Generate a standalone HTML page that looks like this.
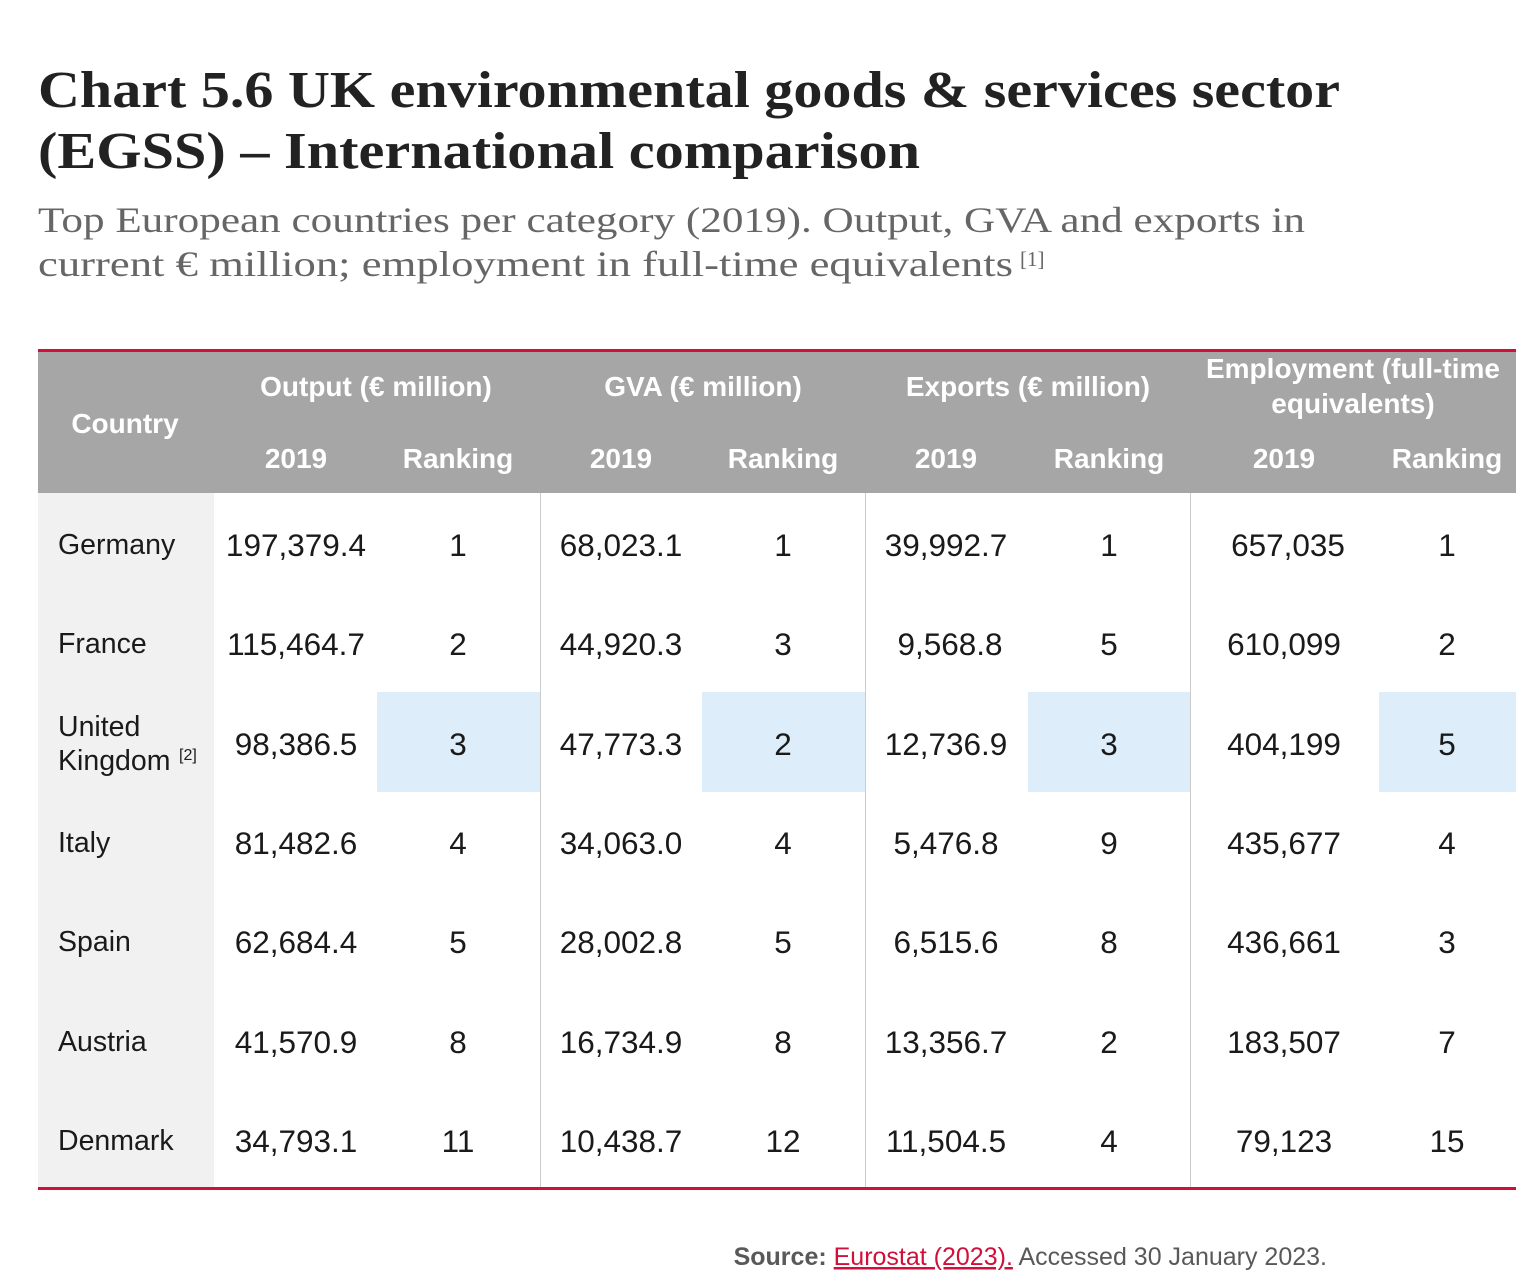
<!DOCTYPE html>
<html><head><meta charset="utf-8"><style>
html,body{margin:0;padding:0;background:#fff;}
svg{display:block;}
.t{font-family:"Liberation Serif",serif;font-weight:bold;fill:#222;font-size:52px;}
.s{font-family:"Liberation Serif",serif;fill:#666;font-size:36px;}
.h{font-family:"Liberation Sans",sans-serif;font-weight:bold;fill:#fff;font-size:28px;text-anchor:middle;}
.c{font-family:"Liberation Sans",sans-serif;fill:#1a1a1a;font-size:28.5px;}
.n{font-family:"Liberation Sans",sans-serif;fill:#1a1a1a;font-size:31.5px;text-anchor:middle;}
.src{font-family:"Liberation Sans",sans-serif;fill:#595959;font-size:25px;}
</style></head><body>
<svg width="1526" height="1285" viewBox="0 0 1526 1285">
<text class="t" x="38" y="107" textLength="1302" lengthAdjust="spacingAndGlyphs">Chart 5.6  UK environmental goods &amp; services sector</text>
<text class="t" x="38" y="168" textLength="882" lengthAdjust="spacingAndGlyphs">(EGSS) – International comparison</text>
<text class="s" x="38" y="232" textLength="1267" lengthAdjust="spacingAndGlyphs">Top European countries per category (2019). Output, GVA and exports in</text>
<text class="s" x="38" y="276" textLength="975" lengthAdjust="spacingAndGlyphs">current € million; employment in full-time equivalents</text>
<text x="1020" y="266" style="font-family:'Liberation Serif',serif;fill:#666;font-size:21px;">[1]</text>

<rect x="38" y="352" width="1478" height="141" fill="#a6a6a6"/>
<rect x="38" y="349" width="1478" height="3" fill="#d0103a"/>
<rect x="38" y="493" width="176" height="695" fill="#f1f1f1"/>
<g fill="#ddeefa">
<rect x="377" y="692" width="163" height="100"/>
<rect x="702" y="692" width="163" height="100"/>
<rect x="1028" y="692" width="162" height="100"/>
<rect x="1379" y="692" width="137" height="100"/>
</g>
<g stroke="#cccccc" stroke-width="1">
<line x1="540.5" y1="493" x2="540.5" y2="1188"/>
<line x1="865.5" y1="493" x2="865.5" y2="1188"/>
<line x1="1190.5" y1="493" x2="1190.5" y2="1188"/>
</g>
<rect x="38" y="1187" width="1478" height="3" fill="#d0103a"/>

<text class="h" x="125" y="433">Country</text>
<text class="h" x="376" y="396">Output (€ million)</text>
<text class="h" x="703" y="396">GVA (€ million)</text>
<text class="h" x="1028" y="396">Exports (€ million)</text>
<text class="h" x="1353" y="378">Employment (full-time</text>
<text class="h" x="1353" y="413">equivalents)</text>
<g>
<text class="h" x="296" y="468">2019</text><text class="h" x="458" y="468">Ranking</text>
<text class="h" x="621" y="468">2019</text><text class="h" x="783" y="468">Ranking</text>
<text class="h" x="946" y="468">2019</text><text class="h" x="1109" y="468">Ranking</text>
<text class="h" x="1284" y="468">2019</text><text class="h" x="1447" y="468">Ranking</text>
</g>

<text class="c" x="58" y="554">Germany</text>
<text class="c" x="58" y="653">France</text>
<text class="c" x="58" y="736">United</text>
<text class="c" x="58" y="770">Kingdom</text><text x="179" y="760" style="font-family:'Liberation Sans',sans-serif;fill:#1a1a1a;font-size:16px;">[2]</text>
<text class="c" x="58" y="852">Italy</text>
<text class="c" x="58" y="951">Spain</text>
<text class="c" x="58" y="1051">Austria</text>
<text class="c" x="58" y="1150">Denmark</text>

<g>
<text class="n" x="296" y="556">197,379.4</text><text class="n" x="458" y="556">1</text><text class="n" x="621" y="556">68,023.1</text><text class="n" x="783" y="556">1</text><text class="n" x="946" y="556">39,992.7</text><text class="n" x="1109" y="556">1</text><text class="n" x="1288" y="556">657,035</text><text class="n" x="1447" y="556">1</text>
<text class="n" x="296" y="655">115,464.7</text><text class="n" x="458" y="655">2</text><text class="n" x="621" y="655">44,920.3</text><text class="n" x="783" y="655">3</text><text class="n" x="950" y="655">9,568.8</text><text class="n" x="1109" y="655">5</text><text class="n" x="1284" y="655">610,099</text><text class="n" x="1447" y="655">2</text>
<text class="n" x="296" y="755">98,386.5</text><text class="n" x="458" y="755">3</text><text class="n" x="621" y="755">47,773.3</text><text class="n" x="783" y="755">2</text><text class="n" x="946" y="755">12,736.9</text><text class="n" x="1109" y="755">3</text><text class="n" x="1284" y="755">404,199</text><text class="n" x="1447" y="755">5</text>
<text class="n" x="296" y="854">81,482.6</text><text class="n" x="458" y="854">4</text><text class="n" x="621" y="854">34,063.0</text><text class="n" x="783" y="854">4</text><text class="n" x="946" y="854">5,476.8</text><text class="n" x="1109" y="854">9</text><text class="n" x="1284" y="854">435,677</text><text class="n" x="1447" y="854">4</text>
<text class="n" x="296" y="953">62,684.4</text><text class="n" x="458" y="953">5</text><text class="n" x="621" y="953">28,002.8</text><text class="n" x="783" y="953">5</text><text class="n" x="946" y="953">6,515.6</text><text class="n" x="1109" y="953">8</text><text class="n" x="1284" y="953">436,661</text><text class="n" x="1447" y="953">3</text>
<text class="n" x="296" y="1053">41,570.9</text><text class="n" x="458" y="1053">8</text><text class="n" x="621" y="1053">16,734.9</text><text class="n" x="783" y="1053">8</text><text class="n" x="946" y="1053">13,356.7</text><text class="n" x="1109" y="1053">2</text><text class="n" x="1284" y="1053">183,507</text><text class="n" x="1447" y="1053">7</text>
<text class="n" x="296" y="1152">34,793.1</text><text class="n" x="458" y="1152">11</text><text class="n" x="621" y="1152">10,438.7</text><text class="n" x="783" y="1152">12</text><text class="n" x="946" y="1152">11,504.5</text><text class="n" x="1109" y="1152">4</text><text class="n" x="1284" y="1152">79,123</text><text class="n" x="1447" y="1152">15</text>
</g>

<text class="src" x="1327" y="1265" text-anchor="end"><tspan font-weight="bold">Source: </tspan><tspan fill="#d0103a" text-decoration="underline">Eurostat (2023).</tspan> Accessed 30 January 2023.</text>
</svg>
</body></html>
